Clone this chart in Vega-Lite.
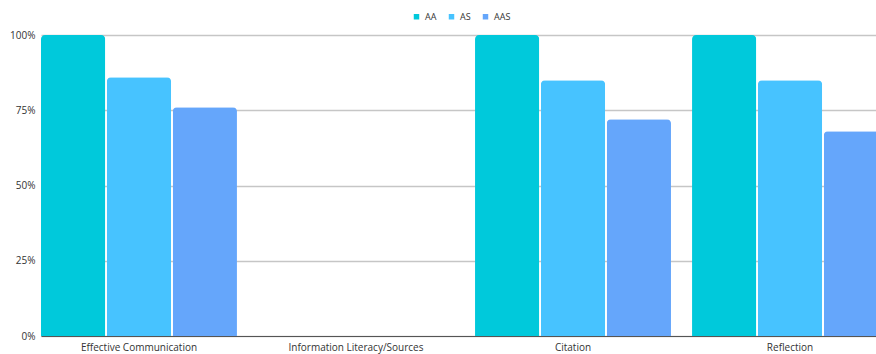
{
  "$schema": "https://vega.github.io/schema/vega-lite/v6.json",
  "width": 835,
  "height": 301,
  "autosize": {"type": "none"},
  "padding": {"left": 41, "top": 35, "right": 0, "bottom": 18},
  "background": "white",
  "config": {
    "view": {"stroke": null},
    "font": "Open Sans",
    "axis": {"labelFont": "Open Sans", "labelColor": "#333333", "labelFontSize": 10}
  },
  "data": {
    "values": [
      {"category": "Effective Communication", "group": "AA", "value": 1.0},
      {"category": "Effective Communication", "group": "AS", "value": 0.86},
      {"category": "Effective Communication", "group": "AAS", "value": 0.76},
      {"category": "Citation", "group": "AA", "value": 1.0},
      {"category": "Citation", "group": "AS", "value": 0.85},
      {"category": "Citation", "group": "AAS", "value": 0.72},
      {"category": "Reflection", "group": "AA", "value": 1.0},
      {"category": "Reflection", "group": "AS", "value": 0.85},
      {"category": "Reflection", "group": "AAS", "value": 0.68}
    ]
  },
  "mark": {"type": "bar", "cornerRadiusTopLeft": 4, "cornerRadiusTopRight": 4},
  "encoding": {
    "x": {
      "field": "category",
      "type": "nominal",
      "sort": ["Effective Communication", "Information Literacy/Sources", "Citation", "Reflection"],
      "scale": {
        "domain": ["Effective Communication", "Information Literacy/Sources", "Citation", "Reflection"],
        "range": [0, 847],
        "paddingInner": 0.097,
        "paddingOuter": 0
      },
      "axis": {
        "title": null,
        "labelAngle": 0,
        "ticks": false,
        "domainColor": "#555555",
        "domainWidth": 1,
        "labelPadding": 6
      }
    },
    "xOffset": {
      "field": "group",
      "type": "nominal",
      "sort": ["AA", "AS", "AAS"],
      "scale": {"paddingInner": 0.025, "paddingOuter": 0}
    },
    "y": {
      "field": "value",
      "type": "quantitative",
      "scale": {"domain": [0, 1], "nice": false},
      "axis": {
        "title": null,
        "format": ".0%",
        "values": [0, 0.25, 0.5, 0.75, 1],
        "domain": false,
        "ticks": false,
        "gridColor": "#c6c6c6",
        "gridWidth": 1.5,
        "labelPadding": 6
      }
    },
    "color": {
      "field": "group",
      "type": "nominal",
      "sort": ["AA", "AS", "AAS"],
      "scale": {"domain": ["AA", "AS", "AAS"], "range": ["#00C9DB", "#47C3FF", "#65A6FB"]},
      "legend": {
        "title": null,
        "orient": "none",
        "direction": "horizontal",
        "legendX": 371,
        "legendY": -23,
        "symbolType": "square",
        "symbolSize": 30,
        "labelFontSize": 9,
        "labelColor": "#333333",
        "columnPadding": 10,
        "symbolStrokeWidth": 0
      }
    }
  }
}
